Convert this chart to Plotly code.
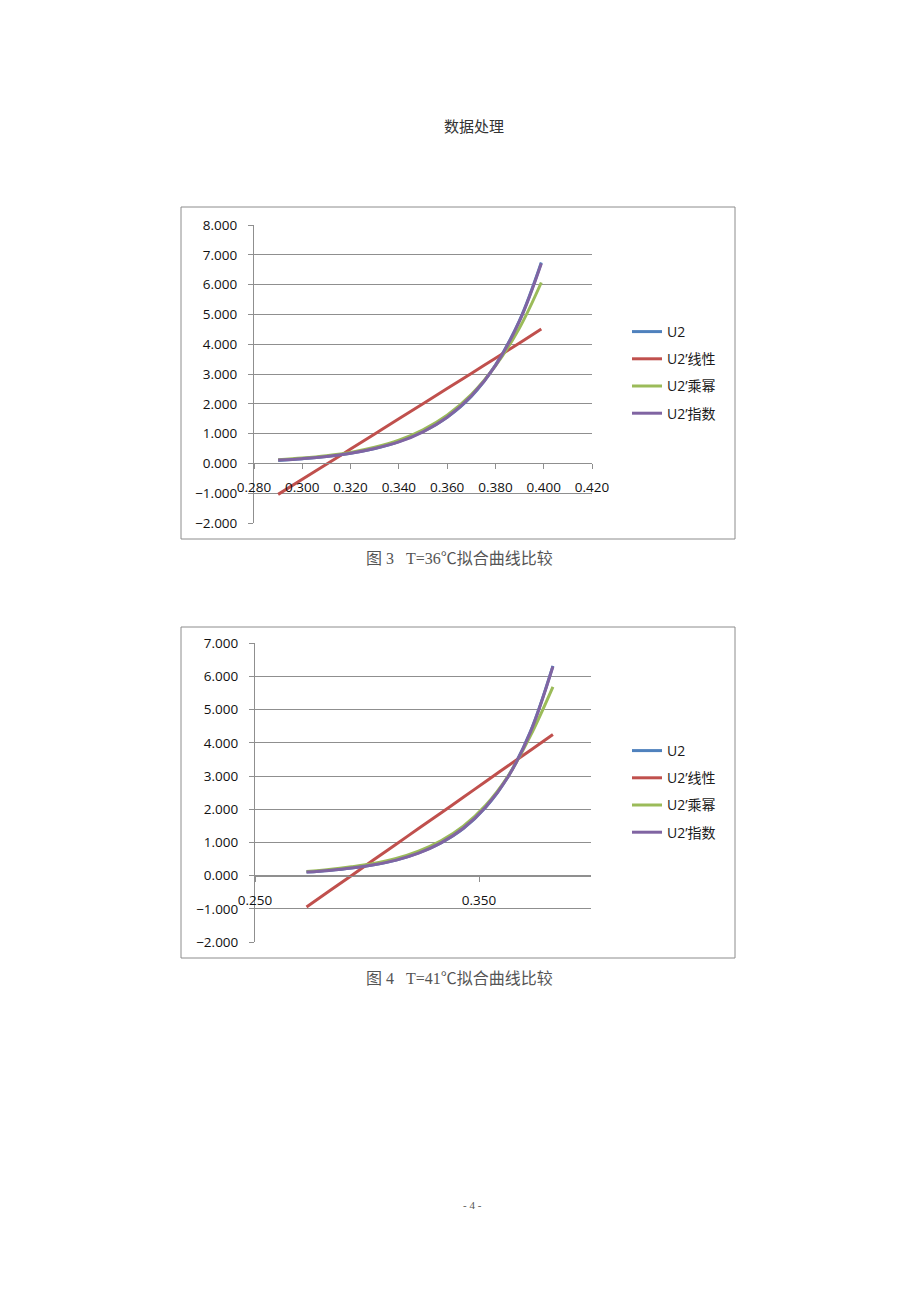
import plotly.graph_objects as go

W, H = 920, 1302
# the page body adds an 8px margin around the figure
OFF = 8

# --- data ---
# figure 3, T=36C
x36 = [0.290, 0.300, 0.310, 0.320, 0.330, 0.340, 0.350, 0.360, 0.370, 0.380, 0.390, 0.399]
u2_36 = [0.10, 0.16, 0.23, 0.34, 0.50, 0.73, 1.07, 1.55, 2.25, 3.30, 4.80, 6.74]
lin_36 = [-1.04, -0.53, -0.03, 0.48, 0.99, 1.50, 2.00, 2.51, 3.02, 3.53, 4.04, 4.51]
pow_36 = [0.12, 0.18, 0.26, 0.37, 0.54, 0.78, 1.13, 1.62, 2.31, 3.27, 4.55, 6.07]
exp_36 = [0.11, 0.16, 0.23, 0.34, 0.50, 0.72, 1.06, 1.55, 2.26, 3.28, 4.78, 6.71]

# figure 4, T=41C
x41 = [0.273, 0.283, 0.293, 0.303, 0.313, 0.323, 0.333, 0.343, 0.353, 0.363, 0.373, 0.383]
u2_41 = [0.11, 0.16, 0.23, 0.33, 0.47, 0.69, 0.99, 1.42, 2.06, 2.99, 4.35, 6.32]
lin_41 = [-0.94, -0.47, 0.00, 0.48, 0.95, 1.42, 1.89, 2.36, 2.84, 3.31, 3.78, 4.25]
pow_41 = [0.13, 0.19, 0.27, 0.37, 0.52, 0.74, 1.05, 1.49, 2.12, 3.00, 4.22, 5.69]
exp_41 = [0.11, 0.16, 0.23, 0.33, 0.47, 0.68, 0.99, 1.43, 2.07, 2.98, 4.33, 6.30]

names = ['U2', 'U2\u2019线性', 'U2\u2019乘幂', 'U2\u2019指数']
colors = ['#4F81BD', '#C0504D', '#9BBB59', '#8064A2']

FONT = 'Open Sans, Noto Sans CJK SC, sans-serif'
SERIF = 'Liberation Serif, Noto Sans CJK SC, serif'
CJK = 'Noto Sans CJK SC, sans-serif'
GRID = '#8f8f8f'


def fx(px):
    return (px - OFF) / W


def fy(py):
    return 1 - (py - OFF) / H


fig = go.Figure()

for series, lg, xa, ya, xs in [
        ([u2_36, lin_36, pow_36, exp_36], 'legend', 'x', 'y', x36),
        ([u2_41, lin_41, pow_41, exp_41], 'legend2', 'x2', 'y2', x41)]:
    for i, ys in enumerate(series):
        fig.add_trace(go.Scatter(
            x=xs, y=ys, mode='lines', name=names[i],
            line=dict(color=colors[i], width=3, shape='spline', smoothing=1),
            xaxis=xa, yaxis=ya, legend=lg, legendgroup=lg + str(i),
        ))

yax = dict(
    tickformat='.3f', dtick=1, showgrid=True, gridcolor=GRID, gridwidth=1,
    zeroline=False, showline=True, linecolor=GRID, linewidth=1,
    ticks='outside', ticklen=5, tickcolor=GRID, ticklabelstandoff=8,
    tickfont=dict(family=FONT, size=13.5, color='#111111'),
)
xax = dict(
    tickformat='.3f', showgrid=False, zeroline=False, showline=True,
    linecolor=GRID, linewidth=1, ticks='outside', ticklen=5, tickcolor=GRID,
    ticklabelstandoff=7, anchor='free',
    tickfont=dict(family=FONT, size=13.5, color='#111111'),
)

fig.update_layout(
    width=W, height=H, autosize=False,
    margin=dict(l=0, r=0, t=0, b=0, pad=0, autoexpand=False),
    paper_bgcolor='white', plot_bgcolor='white',
    xaxis=dict(xax, domain=[fx(254), fx(592)], range=[0.28, 0.42], tick0=0.28, dtick=0.02,
               position=fy(462.8)),
    yaxis=dict(yax, domain=[fy(523), fy(225)], range=[-2, 8], anchor='x'),
    xaxis2=dict(xax, domain=[fx(255), fx(591)], range=[0.25, 0.40], tick0=0.25, dtick=0.1,
                position=fy(875.7)),
    yaxis2=dict(yax, domain=[fy(942.1), fy(643.3)], range=[-2, 7], anchor='x2'),
    legend=dict(x=fx(627), y=fy(316), xanchor='left', yanchor='top', tracegroupgap=6,
                font=dict(family=FONT, size=14, color='#1a1a1a'), bgcolor='rgba(0,0,0,0)'),
    legend2=dict(x=fx(627), y=fy(735), xanchor='left', yanchor='top', tracegroupgap=6,
                 font=dict(family=FONT, size=14, color='#1a1a1a'), bgcolor='rgba(0,0,0,0)'),
    showlegend=True,
)

# chart frames
for top, bottom in [(207, 539), (627, 958)]:
    fig.add_shape(type='rect', xref='paper', yref='paper',
                  x0=fx(181), x1=fx(735), y0=fy(bottom), y1=fy(top),
                  line=dict(color='#8c8c8c', width=1))

texts = [
    ('数据处理', 474, 125, 15, '#333333', CJK),
    ('图 3   T=36℃拟合曲线比较', 459, 558, 16, '#555555', SERIF),
    ('图 4   T=41℃拟合曲线比较', 459, 978, 16, '#555555', SERIF),
    ('- 4 -', 472, 1205, 11, '#555555', SERIF),
]
for t, px, py, size, col, fam in texts:
    fig.add_annotation(text=t, x=fx(px), y=fy(py), xref='paper', yref='paper',
                       showarrow=False, xanchor='center', yanchor='middle',
                       font=dict(family=fam, size=size, color=col))

fig.write_html("out.html")
